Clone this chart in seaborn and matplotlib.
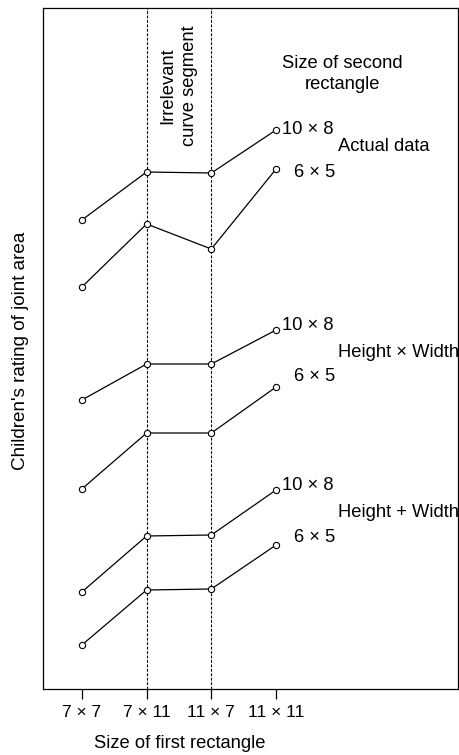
import matplotlib
matplotlib.use("Agg")
import matplotlib.pyplot as plt
import seaborn as sns
import pandas as pd

first_sizes = ["7 × 7", "7 × 11", "11 × 7", "11 × 11"]
positions = [1, 2, 3, 4]

actual_10x8 = [46.9, 51.7, 51.6, 55.9]
actual_6x5 = [40.2, 46.5, 44.0, 52.0]
hxw_10x8 = [28.9, 32.5, 32.5, 35.9]
hxw_6x5 = [20.0, 25.6, 25.6, 30.2]
hpw_10x8 = [9.7, 15.3, 15.4, 19.9]
hpw_6x5 = [4.4, 9.9, 10.0, 14.4]

series = {
    "Actual data 10x8": actual_10x8,
    "Actual data 6x5": actual_6x5,
    "HxW 10x8": hxw_10x8,
    "HxW 6x5": hxw_6x5,
    "H+W 10x8": hpw_10x8,
    "H+W 6x5": hpw_6x5,
}

rows = []
for name, vals in series.items():
    for p, v in zip(positions, vals):
        rows.append({"series": name, "first": p, "rating": v})
df = pd.DataFrame(rows)

sns.set_style("white")
plt.rcParams["font.family"] = ["Liberation Sans", "DejaVu Sans"]
plt.rcParams["text.color"] = "black"
plt.rcParams["axes.labelcolor"] = "black"
plt.rcParams["xtick.color"] = "black"

fig = plt.figure(figsize=(4.6, 7.55), dpi=100)
ax = fig.add_axes([43 / 460, 1 - 689 / 755, (458 - 43) / 460, (689 - 8) / 755])

for x in [2, 3]:
    ax.axvline(x, color="black", lw=0.8, ls=(0, (2.5, 1.5)), zorder=1)

for name in series:
    sub = df[df["series"] == name]
    sns.lineplot(data=sub, x="first", y="rating", ax=ax, color="black", lw=0.9,
                 marker="o", markersize=4.5, markerfacecolor="white",
                 markeredgecolor="black", markeredgewidth=0.8, zorder=3,
                 legend=False)

ax.set_xlim(0.4, 6.81)
ax.set_ylim(0, 68.1)
ax.set_xticks(positions)
ax.set_xticklabels(first_sizes, fontsize=12.5, color="black")
ax.set_yticks([])
ax.tick_params(axis="x", direction="out", length=7.5, width=0.9, pad=4, bottom=True, colors="black")
for s in ax.spines.values():
    s.set_color("black")
    s.set_linewidth(0.9)
    s.set_visible(True)

ax.set_xlabel("")
ax.set_ylabel("")
fig.text(21 / 460, 1 - 351 / 755, "Children's rating of joint area", ha="center", va="center",
         rotation=90, fontsize=13.6, color="black")
fig.text(180 / 460, 1 - 744 / 755, "Size of first rectangle", ha="center", va="center",
         fontsize=13.2, color="black")

fs = 13.2
ax.text(4.09, 55.9, "10 × 8", ha="left", va="center", fontsize=fs)
ax.text(4.27, 51.6, "6 × 5", ha="left", va="center", fontsize=fs)
ax.text(4.96, 54.2, "Actual data", ha="left", va="center", fontsize=fs)
ax.text(5.02, 61.5, "Size of second\nrectangle", ha="center", va="center", fontsize=fs, linespacing=1.3)
ax.text(2.49, 60.3, "Irrelevant\ncurve segment", ha="center", va="center", rotation=90,
        fontsize=fs, linespacing=1.35)

ax.text(4.09, 36.3, "10 × 8", ha="left", va="center", fontsize=fs)
ax.text(4.96, 33.6, "Height × Width", ha="left", va="center", fontsize=fs)
ax.text(4.27, 31.2, "6 × 5", ha="left", va="center", fontsize=fs)

ax.text(4.09, 20.3, "10 × 8", ha="left", va="center", fontsize=fs)
ax.text(4.96, 17.6, "Height + Width", ha="left", va="center", fontsize=fs)
ax.text(4.27, 15.2, "6 × 5", ha="left", va="center", fontsize=fs)

fig.savefig("out.png", dpi=100)
